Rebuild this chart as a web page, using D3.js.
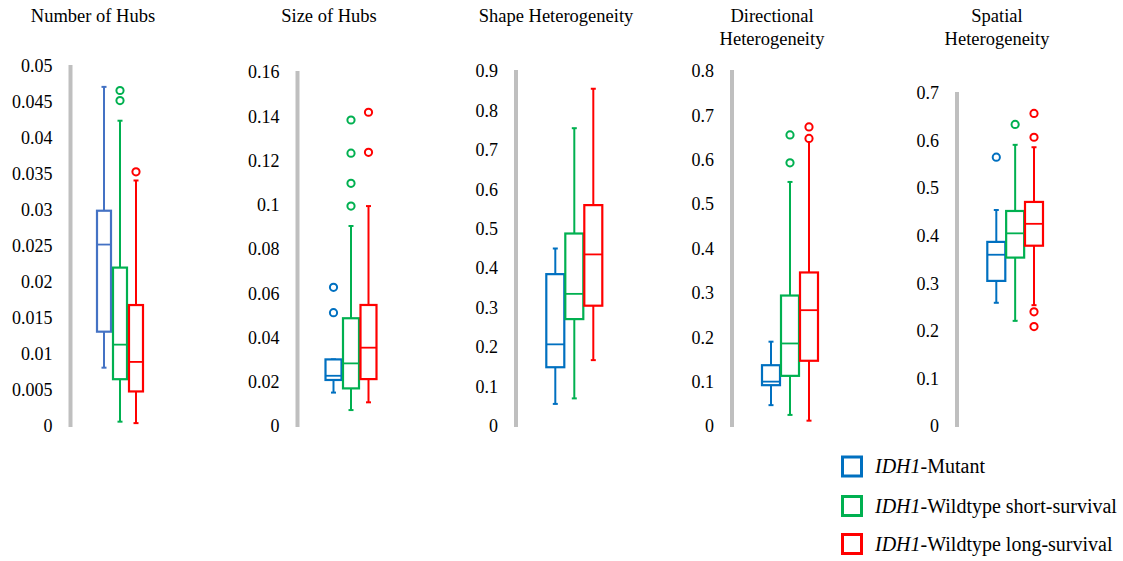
<!DOCTYPE html>
<html>
<head>
<meta charset="utf-8">
<script src="https://cdn.jsdelivr.net/npm/d3@7"></script>
<style>
  body { margin: 0; background: #fff; }
  svg { display: block; }
  text { font-family: "Liberation Serif", "Times New Roman", serif; }
</style>
</head>
<body>
<svg id="chart" width="1123" height="561"></svg>
<script>
// ---------------- DATA ----------------
const groups = ["IDH1-Mutant", "IDH1-Wildtype short-survival", "IDH1-Wildtype long-survival"];
const metrics = [["Number of Hubs"], ["Size of Hubs"], ["Shape Heterogeneity"], ["Directional", "Heterogeneity"], ["Spatial", "Heterogeneity"]];
const yMax = [0.05, 0.16, 0.9, 0.8, 0.7];
const tickLabels1 = ["0", "0.005", "0.01", "0.015", "0.02", "0.025", "0.03", "0.035", "0.04", "0.045", "0.05"];
const tickLabels2 = ["0", "0.02", "0.04", "0.06", "0.08", "0.1", "0.12", "0.14", "0.16"];
const tickLabels3 = ["0", "0.1", "0.2", "0.3", "0.4", "0.5", "0.6", "0.7", "0.8", "0.9"];
const tickLabels4 = ["0", "0.1", "0.2", "0.3", "0.4", "0.5", "0.6", "0.7", "0.8"];
const tickLabels5 = ["0", "0.1", "0.2", "0.3", "0.4", "0.5", "0.6", "0.7"];
const tickLabels = [tickLabels1, tickLabels2, tickLabels3, tickLabels4, tickLabels5];

// [whisker low, Q1, median, Q3, whisker high] for each metric
const mutantStats = [
  [0.0081, 0.0131, 0.0252, 0.0299, 0.0471],
  [0.0151, 0.0208, 0.0227, 0.0301, 0.0301],
  [0.056, 0.149, 0.207, 0.385, 0.450],
  [0.047, 0.092, 0.100, 0.137, 0.190],
  [0.259, 0.305, 0.360, 0.387, 0.454]
];
const shortStats = [
  [0.0006, 0.0065, 0.0113, 0.0220, 0.0424],
  [0.0072, 0.0170, 0.0283, 0.0487, 0.0904],
  [0.070, 0.271, 0.335, 0.488, 0.755],
  [0.025, 0.113, 0.186, 0.294, 0.550],
  [0.221, 0.354, 0.405, 0.452, 0.591]
];
const longStats = [
  [0.0004, 0.0048, 0.0089, 0.0168, 0.0341],
  [0.0107, 0.0212, 0.0354, 0.0547, 0.0994],
  [0.167, 0.305, 0.435, 0.560, 0.855],
  [0.012, 0.147, 0.261, 0.346, 0.644],
  [0.254, 0.379, 0.425, 0.471, 0.586]
];
const mutantOutliers = [[], [0.0512, 0.0627], [], [], [0.565]];
const shortOutliers = [[0.0452, 0.0466], [0.0994, 0.1097, 0.1233, 0.1383], [], [0.593, 0.656], [0.634]];
const longOutliers = [[0.0353], [0.1237, 0.1418], [], [0.648, 0.674], [0.209, 0.240, 0.607, 0.657]];

// ---------------- LAYOUT ----------------
const stats = [mutantStats, shortStats, longStats];
const outliers = [mutantOutliers, shortOutliers, longOutliers];
const colors = ["#0070C0", "#00B050", "#FF0000"];
const panel1Blue = "#4472C4";

const axisX   = [70.5, 297.5, 516, 732, 957];
const topY    = [66, 72, 71, 71, 93];
const bottomY = 426;
const firstOff = [33.5, 36, 39.3, 39, 39.3];
const lastOff  = [65.5, 71, 77.3, 77, 77];
const boxW     = [14, 16, 18, 18, 18];
const titleX   = [93, 329, 556, 772, 997];

const svg = d3.select("#chart");

metrics.forEach((title, p) => {
  const g = svg.append("g");
  const y = d3.scaleLinear().domain([0, yMax[p]]).range([bottomY, topY[p]]);
  const x = d3.scalePoint().domain(groups).range([axisX[p] + firstOff[p], axisX[p] + lastOff[p]]);

  // title
  const t = g.append("text")
    .attr("x", titleX[p]).attr("y", 22)
    .attr("text-anchor", "middle")
    .attr("font-size", 18.5).attr("fill", "#000");
  title.forEach((line, i) => {
    t.append("tspan").attr("x", titleX[p]).attr("dy", i === 0 ? 0 : 23).text(line);
  });

  // axis
  const ax = g.append("g")
    .attr("transform", `translate(${axisX[p]},0)`)
    .call(d3.axisLeft(y)
      .tickValues(tickLabels[p].map(Number))
      .tickFormat((d, i) => tickLabels[p][i])
      .tickSize(0).tickSizeOuter(0).tickPadding(18));
  ax.select(".domain").attr("stroke", "#BFBFBF").attr("stroke-width", 4)
    .attr("d", `M0,${bottomY + 1}V${topY[p] - 1}`);
  ax.selectAll(".tick text")
    .attr("font-family", "Liberation Serif, Times New Roman, serif")
    .attr("font-size", 18).attr("fill", "#000");

  // boxes
  groups.forEach((grp, gi) => {
    const s = stats[gi][p];
    const col = (p === 0 && gi === 0) ? panel1Blue : colors[gi];
    const cx = x(grp);
    const w = boxW[p];
    const bg = g.append("g").attr("stroke", col).attr("fill", "none");
    // whiskers
    bg.append("line").attr("x1", cx).attr("x2", cx).attr("y1", y(s[0])).attr("y2", y(s[1])).attr("stroke-width", 2);
    bg.append("line").attr("x1", cx).attr("x2", cx).attr("y1", y(s[3])).attr("y2", y(s[4])).attr("stroke-width", 2);
    // caps
    [s[0], s[4]].forEach(v => {
      bg.append("line").attr("x1", cx - 2.5).attr("x2", cx + 2.5).attr("y1", y(v)).attr("y2", y(v)).attr("stroke-width", 2);
    });
    // box
    bg.append("rect")
      .attr("x", cx - w / 2).attr("width", w)
      .attr("y", y(s[3])).attr("height", y(s[1]) - y(s[3]))
      .attr("fill", "#fff").attr("stroke-width", 2.2);
    // median
    bg.append("line").attr("x1", cx - w / 2).attr("x2", cx + w / 2)
      .attr("y1", y(s[2])).attr("y2", y(s[2])).attr("stroke-width", 1.8);
    // outliers
    outliers[gi][p].forEach(v => {
      bg.append("circle").attr("cx", cx).attr("cy", y(v)).attr("r", 3.6)
        .attr("fill", "#fff").attr("stroke-width", 2);
    });
  });
});

// legend
const legY = [466.5, 506, 544];
const legend = svg.append("g");
groups.forEach((grp, i) => {
  legend.append("rect")
    .attr("x", 842.5).attr("y", legY[i] - 9.5).attr("width", 19).attr("height", 19)
    .attr("fill", "none").attr("stroke", colors[i]).attr("stroke-width", 3);
  const t = legend.append("text")
    .attr("x", 875).attr("y", legY[i] + 6.5)
    .attr("font-size", 20).attr("fill", "#000");
  const parts = grp.split("-");
  t.append("tspan").attr("font-style", "italic").text(parts[0]);
  t.append("tspan").text("-" + parts.slice(1).join("-"));
});
</script>
</body>
</html>
